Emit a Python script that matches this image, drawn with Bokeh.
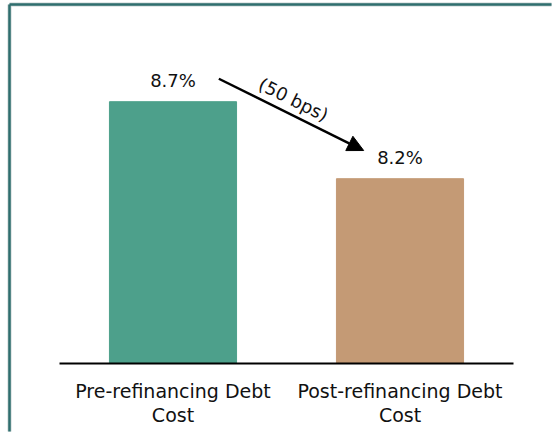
from bokeh.plotting import figure
from bokeh.models import Range1d, Arrow, NormalHead, ColumnDataSource
from bokeh.core.properties import value
from bokeh.embed import file_html
from bokeh.resources import INLINE
import math

# ---- data ----
categories = ["Pre-refinancing Debt\nCost", "Post-refinancing Debt\nCost"]
debt_cost = [8.7, 8.2]
value_labels = ["8.7%", "8.2%"]
bar_colors = ["#4DA08B", "#C49A75"]
change_label = "(50 bps)"
axis_base = 7.0

FONT = "DejaVu Sans"
PX_X = 227.0   # pixels per category
PX_Y = 154.0   # pixels per percentage point

xpos = [i + 0.5 for i in range(len(categories))]
src = ColumnDataSource(dict(x=xpos, cat=categories, val=debt_cost, lab=value_labels, col=bar_colors))

xr = Range1d(-59 / PX_X, len(categories) + 39 / PX_X)
yr = Range1d(axis_base - 69 / PX_Y, axis_base + 363 / PX_Y)

p = figure(
    width=552, height=432, x_range=xr, y_range=yr,
    output_backend="svg", toolbar_location=None,
    min_border=0, x_axis_type=None, y_axis_type=None,
)
p.background_fill_color = "white"
p.border_fill_color = "white"
p.outline_line_color = None
p.grid.visible = False

p.vbar(x="x", top="val", bottom=axis_base, width=0.56, color="col", source=src)

# value labels
p.text(x="x", y="val", text="lab", source=src, text_align="center",
       text_baseline="middle", y_offset=-21, text_font=value(FONT),
       text_font_size="18px", text_color="#111111")

# baseline
p.line(x=[0, len(categories)], y=[axis_base, axis_base], line_color="black", line_width=2)

# category labels
p.text(x="x", y=axis_base, text="cat", source=src, text_align="center",
       text_baseline="top", y_offset=16, text_font=value(FONT),
       text_font_size="19px", text_color="#111111", text_line_height=1.1)

# arrow showing the change between the two bars
p.add_layout(Arrow(x_start=0.702, y_start=8.849, x_end=1.340, y_end=8.383,
                   line_width=2.5, line_color="black",
                   end=NormalHead(size=16, fill_color="black", line_color="black")))
p.text(x=[1.031], y=[8.714], text=[change_label], angle=-math.atan(71.7 / 145),
       text_align="center", text_baseline="middle", text_font=value(FONT),
       text_font_size="18px", text_color="#111111")

# outer frame border (top and left edges visible)
bx = xr.start + 9 / PX_X
by = yr.end - 4 / PX_Y
ex = xr.end - 1 / PX_X
ey = yr.start + 1 / PX_Y
p.segment(x0=[bx, bx], y0=[by, by], x1=[ex, bx], y1=[by, ey],
          line_color="#C8D2D2", line_width=4)
p.segment(x0=[bx, bx], y0=[by, by], x1=[ex, bx], y1=[by, ey],
          line_color="#2F6E6E", line_width=2.5)

open("out.html", "w").write(file_html(p, INLINE))
